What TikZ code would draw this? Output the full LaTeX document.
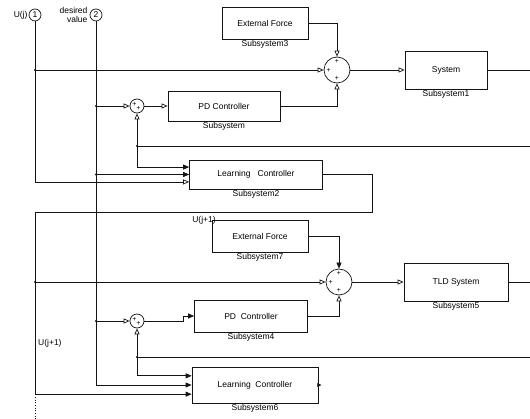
\documentclass[tikz,border=0pt]{standalone}
\usepackage{fontspec}
\setmainfont{Liberation Sans}
\usetikzlibrary{arrows.meta, positioning, calc}
\definecolor{wirecolor}{RGB}{20,20,20}
\tikzset{
  base/.style={draw=wirecolor, line width=0.7pt, align=center,
               font=\fontsize{8.5}{9.5}\selectfont, inner sep=1pt},
  block/.style 2 args = {base, minimum width=#1, minimum height=#2},
  sumnode/.style  = {base, circle, minimum size=26pt, inner sep=0pt},
  smallsum/.style = {base, circle, minimum size=14pt, inner sep=0pt},
  port/.style     = {base, circle, minimum size=12pt, inner sep=0pt},
  lbl/.style      = {font=\fontsize{8.5}{9.5}\selectfont, inner sep=1pt},
  sgn/.style      = {font=\fontsize{7}{7}\selectfont, inner sep=0pt},
  wire/.style     = {line width=0.7pt, color=wirecolor},
  arr/.style      = {wire, -{Triangle[open, length=6pt, width=5pt]}},
  farr/.style     = {wire, -{Triangle[length=6pt, width=5pt]}},
}

\begin{document}
\begin{tikzpicture}[x=1pt, y=-1pt]
  \useasboundingbox (0,0) rectangle (530,419);
  \coordinate (edge) at (530,0);
  \coordinate (fb1) at (530,146);
  \coordinate (fb2) at (530,357);
  \coordinate (ret) at (372,212);

  \node[port] (in1) at (35,15) {1};
  \node[port] (in2) at (96,15) {2};
  \node[lbl, left=0pt of in1] (uj) {U(j)};
  \node[lbl, align=right, left=1pt of in2] (dv) {desired\\value};

  \node[block={86pt}{32pt}, label={[lbl]below:Subsystem3}] (ext3) at (265,23) {External Force};
  \node[sumnode] (sum2) at (337,70) {};
  \node[block={82pt}{38pt}, label={[lbl]below:Subsystem1}] (sys1) at (446,70) {System};
  \node[smallsum] (sum1) at (137,106) {};
  \node[block={112pt}{30pt}, label={[lbl]below:Subsystem}] (pd0) at (224,106) {PD Controller};
  \node[block={133pt}{29pt}, label={[lbl]below:Subsystem2}] (learn2) at (256,174.5) {Learning \ \ Controller};

  \node[block={96pt}{32pt}, label={[lbl]below:Subsystem7}] (ext7) at (260,236) {External Force};
  \node[sumnode] (sum4) at (339,282) {};
  \node[block={104pt}{38pt}, label={[lbl]below:Subsystem5}] (tld5) at (456,282) {TLD System};
  \node[smallsum] (sum3) at (137,321) {};
  \node[block={113pt}{32pt}, label={[lbl]below:Subsystem4}] (pd4) at (251,316) {PD \ Controller};
  \node[block={126pt}{36pt}, label={[lbl]below:Subsystem6}] (learn6) at (255,385) {Learning \ Controller};

  \node[lbl] (uj1a) at (204,220) {U(j+1)};
  \node[lbl, anchor=west] (uj1b) at (37,343) {U(j+1)};

  \node[sgn] (s2w) at ($(sum2.west)+(5,0)$) {+};
  \node[sgn] (s2n) at ($(sum2.north)+(0,5)$) {+};
  \node[sgn] (s2s) at ($(sum2.south)+(0,-5)$) {+};
  \node[sgn] (s4w) at ($(sum4.west)+(5,0)$) {+};
  \node[sgn] (s4n) at ($(sum4.north)+(0,5)$) {+};
  \node[sgn] (s4s) at ($(sum4.south)+(0,-5)$) {+};
  \node[sgn] (s1w) at ($(sum1.center)+(-2.5,-1.5)$) {+};
  \node[sgn] (s1s) at ($(sum1.center)+(1.5,2.5)$) {+};
  \node[sgn] (s3w) at ($(sum3.center)+(-2.5,-1.5)$) {+};
  \node[sgn] (s3s) at ($(sum3.center)+(1.5,2.5)$) {+};

  \coordinate (l2a) at ($(learn2.north west)!0.25!(learn2.south west)$);
  \coordinate (l2b) at ($(learn2.north west)!0.5!(learn2.south west)$);
  \coordinate (l2c) at ($(learn2.north west)!0.75!(learn2.south west)$);
  \coordinate (l6a) at ($(learn6.north west)!0.25!(learn6.south west)$);
  \coordinate (l6b) at ($(learn6.north west)!0.5!(learn6.south west)$);
  \coordinate (l6c) at ($(learn6.north west)!0.75!(learn6.south west)$);

  \draw[arr] (in1.south) |- (l2c);
  \draw[arr] (in1 |- sum2) -- (sum2.west);
  \draw[farr] (in2.south) |- (l6b);
  \draw[arr] (in2 |- sum1) -- (sum1.west);
  \draw[farr] (in2 |- l2b) -- (l2b);
  \draw[arr] (in2 |- sum3) -- (sum3.west);

  \draw[arr] (ext3.east) -| (sum2.north);
  \draw[arr] (pd0.east) -| (sum2.south);
  \draw[arr] (sum1.east) -- (pd0.west);
  \draw[arr] (sum2.east) -- (sys1.west);
  \draw[wire] (sys1.east) -- (sys1 -| edge);
  \draw[wire] (fb1) -- (fb1 -| sum1);
  \draw[arr] (fb1 -| sum1) -- (sum1.south);
  \draw[farr] (fb1 -| sum1) |- (l2a);

  \draw[wire] (learn2.east) -| (ret) -- (ret -| in1);
  \draw[farr] (ret -| in1) |- (l6c);
  \draw[wire, dotted] (in1 |- l6c) -- (35,419);
  \draw[arr] (in1 |- sum4) -- (sum4.west);

  \draw[farr] (ext7.east) -| (sum4.north);
  \draw[arr] (pd4.east) -| (sum4.south);
  \draw[arr] (sum4.east) -- (tld5.west);
  \draw[wire] (tld5.east) -- (tld5 -| edge);
  \draw[farr] (sum3.east) -- ++(39,0) |- (pd4.west);
  \draw[wire] (fb2) -- (fb2 -| sum3);
  \draw[arr] (fb2 -| sum3) -- (sum3.south);
  \draw[farr] (fb2 -| sum3) |- (l6a);
  \draw[wire, -{Triangle[length=4pt, width=4pt]}] (learn6.east) -- ++(3,0);

  \foreach \p in {(in2 |- sum1), (in2 |- l2b), (in2 |- sum3), (in1 |- sum2),
                  (in1 |- sum4), (fb1 -| sum1), (fb2 -| sum3)}
    \fill[wirecolor] \p circle (1.2pt);
\end{tikzpicture}
\end{document}
